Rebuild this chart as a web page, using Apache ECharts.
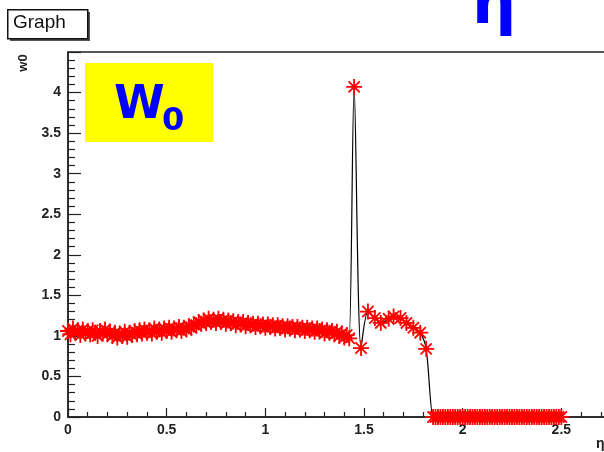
<!DOCTYPE html>
<html>
<head>
<meta charset="utf-8">
<script src="https://cdn.jsdelivr.net/npm/echarts@6/dist/echarts.min.js"></script>
<style>html,body{margin:0;padding:0;background:#fff}#c{width:604px;height:452px}</style>
</head>
<body>
<div id="c"></div>
<script>
// ---- data ----
const etaValues = [
  0,0.0125,0.025,0.0375,0.05,0.0625,0.075,0.0875,0.1,0.1125,
  0.125,0.1375,0.15,0.1625,0.175,0.1875,0.2,0.2125,0.225,0.2375,
  0.25,0.2625,0.275,0.2875,0.3,0.3125,0.325,0.3375,0.35,0.3625,
  0.375,0.3875,0.4,0.4125,0.425,0.4375,0.45,0.4625,0.475,0.4875,
  0.5,0.5125,0.525,0.5375,0.55,0.5625,0.575,0.5875,0.6,0.6125,
  0.625,0.6375,0.65,0.6625,0.675,0.6875,0.7,0.7125,0.725,0.7375,
  0.75,0.7625,0.775,0.7875,0.8,0.8125,0.825,0.8375,0.85,0.8625,
  0.875,0.8875,0.9,0.9125,0.925,0.9375,0.95,0.9625,0.975,0.9875,
  1,1.0125,1.025,1.0375,1.05,1.0625,1.075,1.0875,1.1,1.1125,
  1.125,1.1375,1.15,1.1625,1.175,1.1875,1.2,1.2125,1.225,1.2375,
  1.25,1.2625,1.275,1.2875,1.3,1.3125,1.325,1.3375,1.35,1.3625,
  1.375,1.3875,1.4,1.4125,1.425,
  1.45,1.485,1.52,1.555,1.585,1.625,1.65,1.685,1.715,1.75,1.785,1.815,
  1.85,1.8625,1.875,1.8875,1.9,1.9125,1.925,1.9375,1.95,1.9625,
  1.975,1.9875,2,2.0125,2.025,2.0375,2.05,2.0625,2.075,2.0875,
  2.1,2.1125,2.125,2.1375,2.15,2.1625,2.175,2.1875,2.2,2.2125,
  2.225,2.2375,2.25,2.2625,2.275,2.2875,2.3,2.3125,2.325,2.3375,
  2.35,2.3625,2.375,2.3875,2.4,2.4125,2.425,2.4375,2.45,2.4625,
  2.475,2.4875,2.5
];
const w0Values = [
  1.06,1.02,1.09,1.04,1.07,1.01,1.08,1.03,1.06,1.02,
  1.07,1.04,1.00,1.06,1.03,1.08,1.02,1.05,1.00,1.04,
  0.98,1.03,1.00,1.05,0.99,1.04,1.01,1.06,1.02,1.07,
  1.03,1.08,1.04,1.07,1.03,1.09,1.05,1.08,1.04,1.09,
  1.06,1.10,1.05,1.09,1.07,1.11,1.06,1.10,1.08,1.12,
  1.10,1.14,1.13,1.17,1.15,1.19,1.16,1.21,1.17,1.20,
  1.16,1.21,1.17,1.20,1.15,1.19,1.16,1.18,1.13,1.17,
  1.14,1.17,1.12,1.16,1.13,1.15,1.11,1.15,1.12,1.14,
  1.10,1.14,1.11,1.13,1.09,1.13,1.10,1.12,1.08,1.12,
  1.09,1.11,1.07,1.11,1.08,1.10,1.06,1.10,1.07,1.09,
  1.05,1.09,1.06,1.08,1.03,1.07,1.04,1.06,1.02,1.05,
  1.00,1.03,0.98,1.01,0.97,
  4.07,0.85,1.30,1.22,1.16,1.21,1.24,1.22,1.16,1.10,1.04,0.84,
  0,0,0,0,0,0,0,0,0,0,
  0,0,0,0,0,0,0,0,0,0,
  0,0,0,0,0,0,0,0,0,0,
  0,0,0,0,0,0,0,0,0,0,
  0,0,0,0,0,0,0,0,0,0,
  0,0,0
];
const xTickStep = 0.5;
const yTickStep = 0.5;
const titleText = 'Graph';
const yAxisTitle = 'w0';
const xAxisTitle = 'η';

const points = etaValues.map((x, i) => [x, w0Values[i]]);
const font = 'Liberation Sans, Arial, sans-serif';
const axisColor = '#222';

const chart = echarts.init(document.getElementById('c'), null, {renderer: 'canvas'});
chart.setOption({
  animation: false,
  backgroundColor: '#fff',
  grid: {left: 68, top: 52, width: 592, bottom: 35, show: true, borderColor: axisColor, borderWidth: 1.5,
         backgroundColor: 'transparent', containLabel: false, outerBoundsMode: 'none'},
  xAxis: {
    type: 'value', min: 0, max: 3, interval: xTickStep,
    axisLine: {show: true, onZero: false, lineStyle: {color: axisColor, width: 1.5}},
    axisTick: {show: true, inside: true, length: 9, lineStyle: {color: axisColor, width: 1.2}},
    minorTick: {show: true, splitNumber: 5, length: 5, lineStyle: {color: axisColor, width: 1.2}},
    axisLabel: {show: true, margin: 6, color: axisColor, fontFamily: font, fontWeight: 'bold', fontSize: 14, showMaxLabel: false},
    splitLine: {show: false}
  },
  yAxis: {
    type: 'value', min: 0, max: 4.5, interval: yTickStep,
    axisLine: {show: true, onZero: false, lineStyle: {color: axisColor, width: 1.5}},
    axisTick: {show: true, inside: true, length: 13, lineStyle: {color: axisColor, width: 1.2}},
    minorTick: {show: true, splitNumber: 5, length: 7, lineStyle: {color: axisColor, width: 1.2}},
    axisLabel: {show: true, margin: 7, color: axisColor, fontFamily: font, fontWeight: 'bold', fontSize: 14, showMaxLabel: false},
    splitLine: {show: false}
  },
  series: [{
    type: 'line',
    data: points,
    smooth: 0.3,
    clip: false,
    showAllSymbol: true,
    symbol: 'path://M0,5L10,5M5,0L5,10M1.5,1.5L8.5,8.5M8.5,1.5L1.5,8.5',
    symbolSize: 16,
    lineStyle: {color: '#000', width: 1.2},
    itemStyle: {color: '#ff0000', borderColor: '#ff0000', borderWidth: 1.8},
    z: 3
  }],
  graphic: [
    {type: 'rect', left: 10, top: 12, shape: {width: 80, height: 29}, style: {fill: '#555'}},
    {type: 'rect', left: 7, top: 9, shape: {width: 80, height: 29}, style: {fill: '#fff', stroke: '#111', lineWidth: 1.5}},
    {type: 'text', left: 13, top: 13, style: {text: titleText, font: '19px ' + font, fill: '#111'}},
    {type: 'rect', left: 85, top: 63, shape: {width: 128, height: 79}, style: {fill: '#ffff00'}, z: 10},
    {type: 'text', x: 114, y: 106, z: 11, style: {text: 'W', font: 'bold 46px "DejaVu Sans"', fill: '#0000ff', verticalAlign: 'middle', align: 'left'}},
    {type: 'text', x: 162, y: 122, z: 11, style: {text: '0', font: 'bold 32px "DejaVu Sans"', fill: '#0000ff', verticalAlign: 'middle', align: 'left'}},
    {type: 'text', x: 472, y: 7, z: 11, style: {text: 'η', font: 'bold 62px "DejaVu Sans"', fill: '#0000ff', verticalAlign: 'middle', align: 'left'}},
    {type: 'text', x: 23, y: 63, rotation: Math.PI / 2, style: {text: yAxisTitle, font: 'bold 13px ' + font, fill: axisColor, align: 'center', verticalAlign: 'middle'}},
    {type: 'text', x: 596, y: 444, style: {text: xAxisTitle, font: 'bold 14px ' + font, fill: axisColor, align: 'left', verticalAlign: 'middle'}}
  ]
});
</script>
</body>
</html>
